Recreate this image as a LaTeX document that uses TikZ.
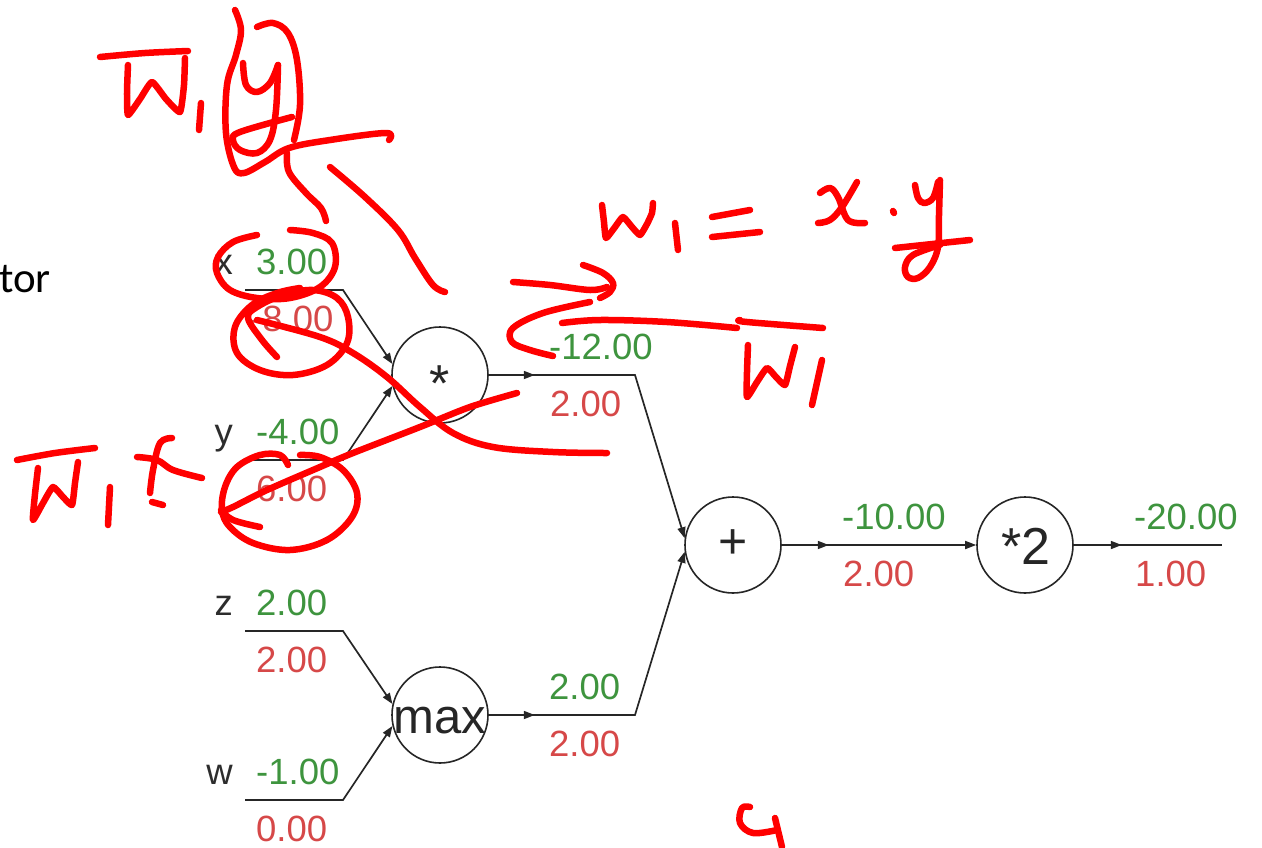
\documentclass[tikz,border=0pt]{standalone}
\usepackage{fontspec}
\setmainfont{Liberation Sans}
\newfontfamily\calib{Carlito}
\usetikzlibrary{arrows.meta}
\definecolor{gv}{RGB}{62,148,62}
\definecolor{rv}{RGB}{214,72,72}
\definecolor{lab}{RGB}{45,45,45}
\definecolor{ink}{RGB}{255,0,0}
\begin{document}
\begin{tikzpicture}[x=1pt,y=-1pt,
  op/.style={circle,draw=black!85,line width=1.6pt,minimum size=96pt,inner sep=0pt},
  sym/.style={anchor=base,inner sep=0pt,text=black!85},
  edge/.style={line width=1.7pt,draw=black!85},
  tip/.style={-{Triangle[length=11pt,width=8pt]}},
  gval/.style={anchor=base west,inner sep=0pt,text=gv,font=\fontsize{36.5}{36.5}\selectfont},
  rval/.style={anchor=base west,inner sep=0pt,text=rv,font=\fontsize{36.5}{36.5}\selectfont},
  vlab/.style={anchor=base east,inner sep=0pt,text=lab,font=\fontsize{36.5}{36.5}\selectfont},
  pen/.style={draw=ink,line width=6.5pt,line cap=round,line join=round},
]
\useasboundingbox (0,0) rectangle (1262,847);

% cut-off slide text
\node[anchor=base east,inner sep=0pt,font=\calib\fontsize{43}{43}\selectfont] (tor) at (51,292) {tor};

% operation nodes
\node[op] (mul) at (440,375) {};
\node[op] (add) at (733,545) {};
\node[op] (dbl) at (1025,545) {};
\node[op] (mx)  at (440,715) {};
\node[sym,font=\fontsize{52}{52}\selectfont] (mulsym) at (440,401) {*};
\node[sym,font=\fontsize{50}{50}\selectfont] (addsym) at (733,558) {+};
\node[sym,font=\fontsize{52}{52}\selectfont] (dblsym) at (1026,564) {*2};
\node[sym,font=\fontsize{49}{49}\selectfont] (mxsym)  at (440,733) {max};

% input line coordinates
\coordinate (xs) at (245,290); \coordinate (xe) at (343,290);
\coordinate (ys) at (245,460); \coordinate (ye) at (343,460);
\coordinate (zs) at (245,631); \coordinate (ze) at (343,631);
\coordinate (ws) at (245,800); \coordinate (we) at (343,800);
\coordinate (mc) at (635,375);
\coordinate (xc) at (635,715);
\coordinate (fe) at (1222,545);

% connectors
\draw[edge,tip] (xs) -- (xe) -- (mul.167);
\draw[edge,tip] (ys) -- (ye) -- (mul.193);
\draw[edge,tip] (zs) -- (ze) -- (mx.167);
\draw[edge,tip] (ws) -- (we) -- (mx.193);
\draw[edge,tip] (mul.east) -- ++(46,0);
\draw[edge,tip] (mul.east) -- (mc) -- (add.172);
\draw[edge,tip] (mx.east) -- ++(46,0);
\draw[edge,tip] (mx.east) -- (xc) -- (add.188);
\draw[edge,tip] (add.east) -- ++(47,0);
\draw[edge,tip] (add.east) -- (dbl.west);
\draw[edge,tip] (dbl.east) -- ++(48,0);
\draw[edge] (dbl.east) -- (fe);

% labels and values
\node[vlab] (lx) at (233,274) {x};
\node[gval] (vx) at (256,274) {3.00};
\node[rval] (gx) at (250,331) {-8.00};
\node[vlab] (ly) at (233,444) {y};
\node[gval] (vy) at (256,444) {-4.00};
\node[rval] (gy) at (256,501) {6.00};
\node[vlab] (lz) at (233,615) {z};
\node[gval] (vz) at (256,615) {2.00};
\node[rval] (gz) at (256,672) {2.00};
\node[vlab] (lw) at (233,784) {w};
\node[gval] (vw) at (256,784) {-1.00};
\node[rval] (gw) at (256,841) {0.00};
\node[gval] (vm) at (549,359) {-12.00};
\node[rval] (gm) at (550,416) {2.00};
\node[gval] (vmx) at (549,699) {2.00};
\node[rval] (gmx) at (549,756) {2.00};
\node[gval] (va) at (842,529) {-10.00};
\node[rval] (ga) at (843,586) {2.00};
\node[gval] (vd) at (1134,529) {-20.00};
\node[rval] (gd) at (1135,586) {1.00};

% ---- red handwriting ----
% top-left  W1 (y)
\draw[pen] plot[smooth,tension=0.5] coordinates {(100,57) (145,53) (188,51)};
\draw[pen] plot[smooth,tension=0.3] coordinates {(128,65) (127,92) (128,115) (140,99) (152,82) (166,99) (180,112) (184,85) (185,58)};
\draw[pen] (201,103) -- (199,130);
\draw[pen] plot[smooth,tension=0.6] coordinates {(243,63) (246,85) (257,92) (270,83) (278,65)};
\draw[pen] plot[smooth,tension=0.6] coordinates {(278,65) (276,110) (270,140) (257,153) (240,150) (233,140) (240,132) (292,117)};
\draw[pen] plot[smooth,tension=0.6] coordinates {(235,10) (241,30) (236,55) (227,85) (226,133) (234,167) (244,173) (265,162) (289,148) (330,140) (386,133) (389,140)};
\draw[pen] plot[smooth,tension=0.6] coordinates {(257,27) (273,23) (288,33) (297,60) (300,105) (294,140)};
\draw[pen] plot[smooth,tension=0.6] coordinates {(287,153) (289,172) (306,193) (321,208) (326,221)};
\draw[pen] plot[smooth,tension=0.6] coordinates {(330,167) (365,197) (398,230) (415,258) (433,285) (445,292)};

% top-right  w1 = x . y
\draw[pen] plot[smooth,tension=0.3] coordinates {(602,205) (604,222) (606,238) (615,227) (623,217) (632,227) (640,235) (647,224) (652,213) (653,203)};
\draw[pen] (675,223) -- (678,250);
\draw[pen] (712,217) -- (750,210);
\draw[pen] (712,237) -- (760,232);
\draw[pen] plot[smooth,tension=0.6] coordinates {(820,193) (830,188) (838,197) (848,220) (865,223)};
\draw[pen] plot[smooth,tension=0.6] coordinates {(818,223) (830,220) (842,207) (857,182)};
\draw[pen] (893,211) -- (894,213);
\draw[pen] plot[smooth,tension=0.6] coordinates {(915,185) (918,198) (924,203) (933,198) (938,182)};
\draw[pen] plot[smooth,tension=0.6] coordinates {(940,180) (939,215) (938,247) (930,267) (918,278) (908,277) (905,267) (913,255) (940,245)};
\draw[pen] (895,248) -- (970,240);

% arrows near -12.00 and W1 bar
\draw[pen] plot[smooth,tension=0.6] coordinates {(513,282) (550,285) (590,290) (607,287)};
\draw[pen] plot[smooth,tension=0.6] coordinates {(583,265) (603,273) (613,283) (610,292) (600,298)};
\draw[pen] plot[smooth,tension=0.6] coordinates {(590,302) (543,313) (513,328) (512,342) (530,350) (553,356)};
\draw[pen] plot[smooth,tension=0.6] coordinates {(562,323) (600,320) (667,322) (737,328)};
\draw[pen] plot[smooth,tension=0.6] coordinates {(740,320) (747,322) (823,328)};
\draw[pen] plot[smooth,tension=0.3] coordinates {(748,345) (747,372) (747,397) (757,382) (767,368) (776,377) (785,385) (790,366) (795,347)};
\draw[pen] (822,360) -- (812,405);

% circles round x 3.00, -8.00, 6.00 and the crossing strokes
\draw[pen] plot[smooth,tension=0.6] coordinates {(257,235) (233,242) (218,257) (217,273) (230,290) (257,298) (290,298) (320,287) (335,267) (332,243) (313,233) (290,230)};
\draw[pen] plot[smooth,tension=0.6] coordinates {(300,288) (277,293) (252,305) (235,327) (237,353) (260,370) (293,375) (327,365) (347,343) (348,317) (337,298) (313,290) (283,295) (257,307) (248,318) (262,340) (277,357)};
\draw[pen] plot[smooth,tension=0.6] coordinates {(257,320) (320,337) (353,353) (387,377) (420,407) (453,433) (493,447) (553,452) (607,453)};
\draw[pen] plot[smooth,tension=0.5] coordinates {(517,393) (470,407) (420,427) (353,453) (320,467) (267,490) (233,507) (221,512)};
\draw[pen] plot[smooth,tension=0.6] coordinates {(221,510) (233,520) (260,527)};
\draw[pen] plot[smooth,tension=0.6] coordinates {(288,465) (280,455) (260,455) (237,467) (225,487) (222,510) (230,527) (253,543) (290,550) (327,540) (352,517) (357,493) (343,470) (320,457) (300,455)};

% left  W1 x
\draw[pen] plot[smooth,tension=0.5] coordinates {(17,460) (55,453) (95,448)};
\draw[pen] plot[smooth,tension=0.3] coordinates {(38,468) (35,494) (33,520) (43,503) (53,487) (63,497) (72,505) (75,483) (78,462)};
\draw[pen] (110,487) -- (108,525);
\draw[pen] plot[smooth,tension=0.6] coordinates {(137,457) (157,460) (173,470) (202,478)};
\draw[pen] plot[smooth,tension=0.6] coordinates {(172,438) (160,443) (153,470) (150,493)};
\draw[pen] (152,502) -- (163,505);

% bottom mark
\draw[pen] plot[smooth,tension=0.6] coordinates {(750,807) (742,808) (740,823) (753,833) (777,830)};
\draw[pen] (775,818) -- (782,847);
\end{tikzpicture}
\end{document}
